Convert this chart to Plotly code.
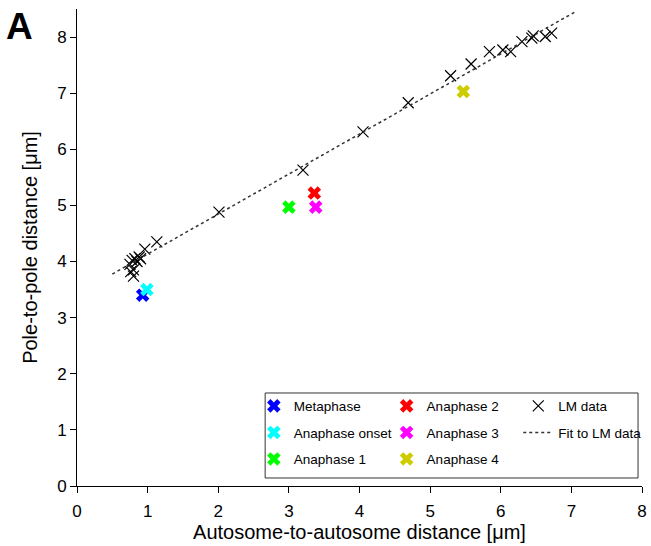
import plotly.graph_objects as go

# LM data
lm_x = [0.75, 0.78, 0.82, 0.85, 0.88, 0.80, 0.76, 0.80, 0.90, 0.96, 1.13, 2.01, 3.20,
        4.05, 4.69, 5.29, 5.58, 5.84, 6.03, 6.14, 6.30, 6.44, 6.46, 6.63, 6.72]
lm_y = [3.95, 4.02, 4.05, 4.00, 4.08, 3.85, 3.82, 3.74, 4.05, 4.22, 4.35, 4.88, 5.63,
        6.31, 6.83, 7.31, 7.52, 7.74, 7.77, 7.74, 7.92, 7.98, 8.02, 8.01, 8.07]

# Stage data
stage_names = ["Metaphase", "Anaphase onset", "Anaphase 1", "Anaphase 2", "Anaphase 3", "Anaphase 4"]
stage_x = [0.93, 0.99, 3.00, 3.36, 3.38, 5.47]
stage_y = [3.40, 3.50, 4.97, 5.22, 4.97, 7.03]
stage_colors = ["#0000ff", "#00ffff", "#00ff00", "#ff0000", "#ff00ff", "#cccc00"]

# Fit line
fit_x = [0.5, 7.05]
fit_slope = 0.713
fit_intercept = 3.42
fit_y = [fit_intercept + fit_slope * v for v in fit_x]

font_family = "Liberation Sans, Arial, sans-serif"

fig = go.Figure()

legend_of = ["legend", "legend", "legend", "legend2", "legend2", "legend2"]
for i, (n, x, y, c) in enumerate(zip(stage_names, stage_x, stage_y, stage_colors)):
    fig.add_trace(go.Scatter(
        x=[x], y=[y], mode="markers", name=n,
        marker=dict(symbol="x", size=12, color=c, line=dict(width=0)),
        legend=legend_of[i], legendgroup=n,
    ))

fig.add_trace(go.Scatter(
    x=lm_x, y=lm_y, mode="markers", name="LM data",
    marker=dict(symbol="x-thin-open", size=11, color="black", line=dict(width=1.2, color="black")),
    legend="legend3", legendgroup="lm",
))
fig.add_trace(go.Scatter(
    x=fit_x, y=fit_y, mode="lines", name="Fit to LM data",
    line=dict(color="#333333", width=1.5, dash="dot"),
    legend="legend3", legendgroup="fit",
))

leg_common = dict(
    yanchor="top", y=0.2, xanchor="left",
    bgcolor="rgba(0,0,0,0)", borderwidth=0,
    font=dict(family=font_family, size=13.5, color="black"),
    tracegroupgap=6, itemwidth=30,
)

fig.update_layout(
    width=651, height=546,
    margin=dict(l=77, r=9, t=9, b=60, autoexpand=False),
    plot_bgcolor="white", paper_bgcolor="white",
    font=dict(family=font_family, color="black"),
    showlegend=True,
    legend=dict(x=0.313, **leg_common),
    legend2=dict(x=0.548, **leg_common),
    legend3=dict(x=0.781, **leg_common),
    xaxis=dict(
        range=[0, 8], tickvals=[0, 1, 2, 3, 4, 5, 6, 7, 8], automargin=False,
        showgrid=False, zeroline=False, showline=True, linecolor="black", linewidth=1,
        ticks="outside", ticklen=6, tickcolor="black", ticklabelstandoff=4,
        tickfont=dict(size=17, family=font_family),
        title=dict(text="Autosome-to-autosome distance [μm]", font=dict(size=20, family=font_family), standoff=4),
    ),
    yaxis=dict(
        range=[0, 8.5], tickvals=[0, 1, 2, 3, 4, 5, 6, 7, 8], automargin=False,
        showgrid=False, zeroline=False, showline=True, linecolor="black", linewidth=1,
        ticks="outside", ticklen=6, tickcolor="black",
        tickfont=dict(size=17, family=font_family),
        title=dict(text="Pole-to-pole distance [μm]", font=dict(size=20, family=font_family), standoff=14),
    ),
    shapes=[dict(type="rect", xref="paper", yref="paper",
                 x0=0.333, x1=0.993, y0=0.0168, y1=0.195,
                 line=dict(color="#333333", width=1), fillcolor="rgba(0,0,0,0)")],
    annotations=[dict(text="<b>A</b>", xref="paper", yref="paper", x=-0.129, y=1.01,
                      xanchor="left", yanchor="top", showarrow=False,
                      font=dict(size=37, family=font_family, color="black"))],
)

fig.write_html("out.html")
